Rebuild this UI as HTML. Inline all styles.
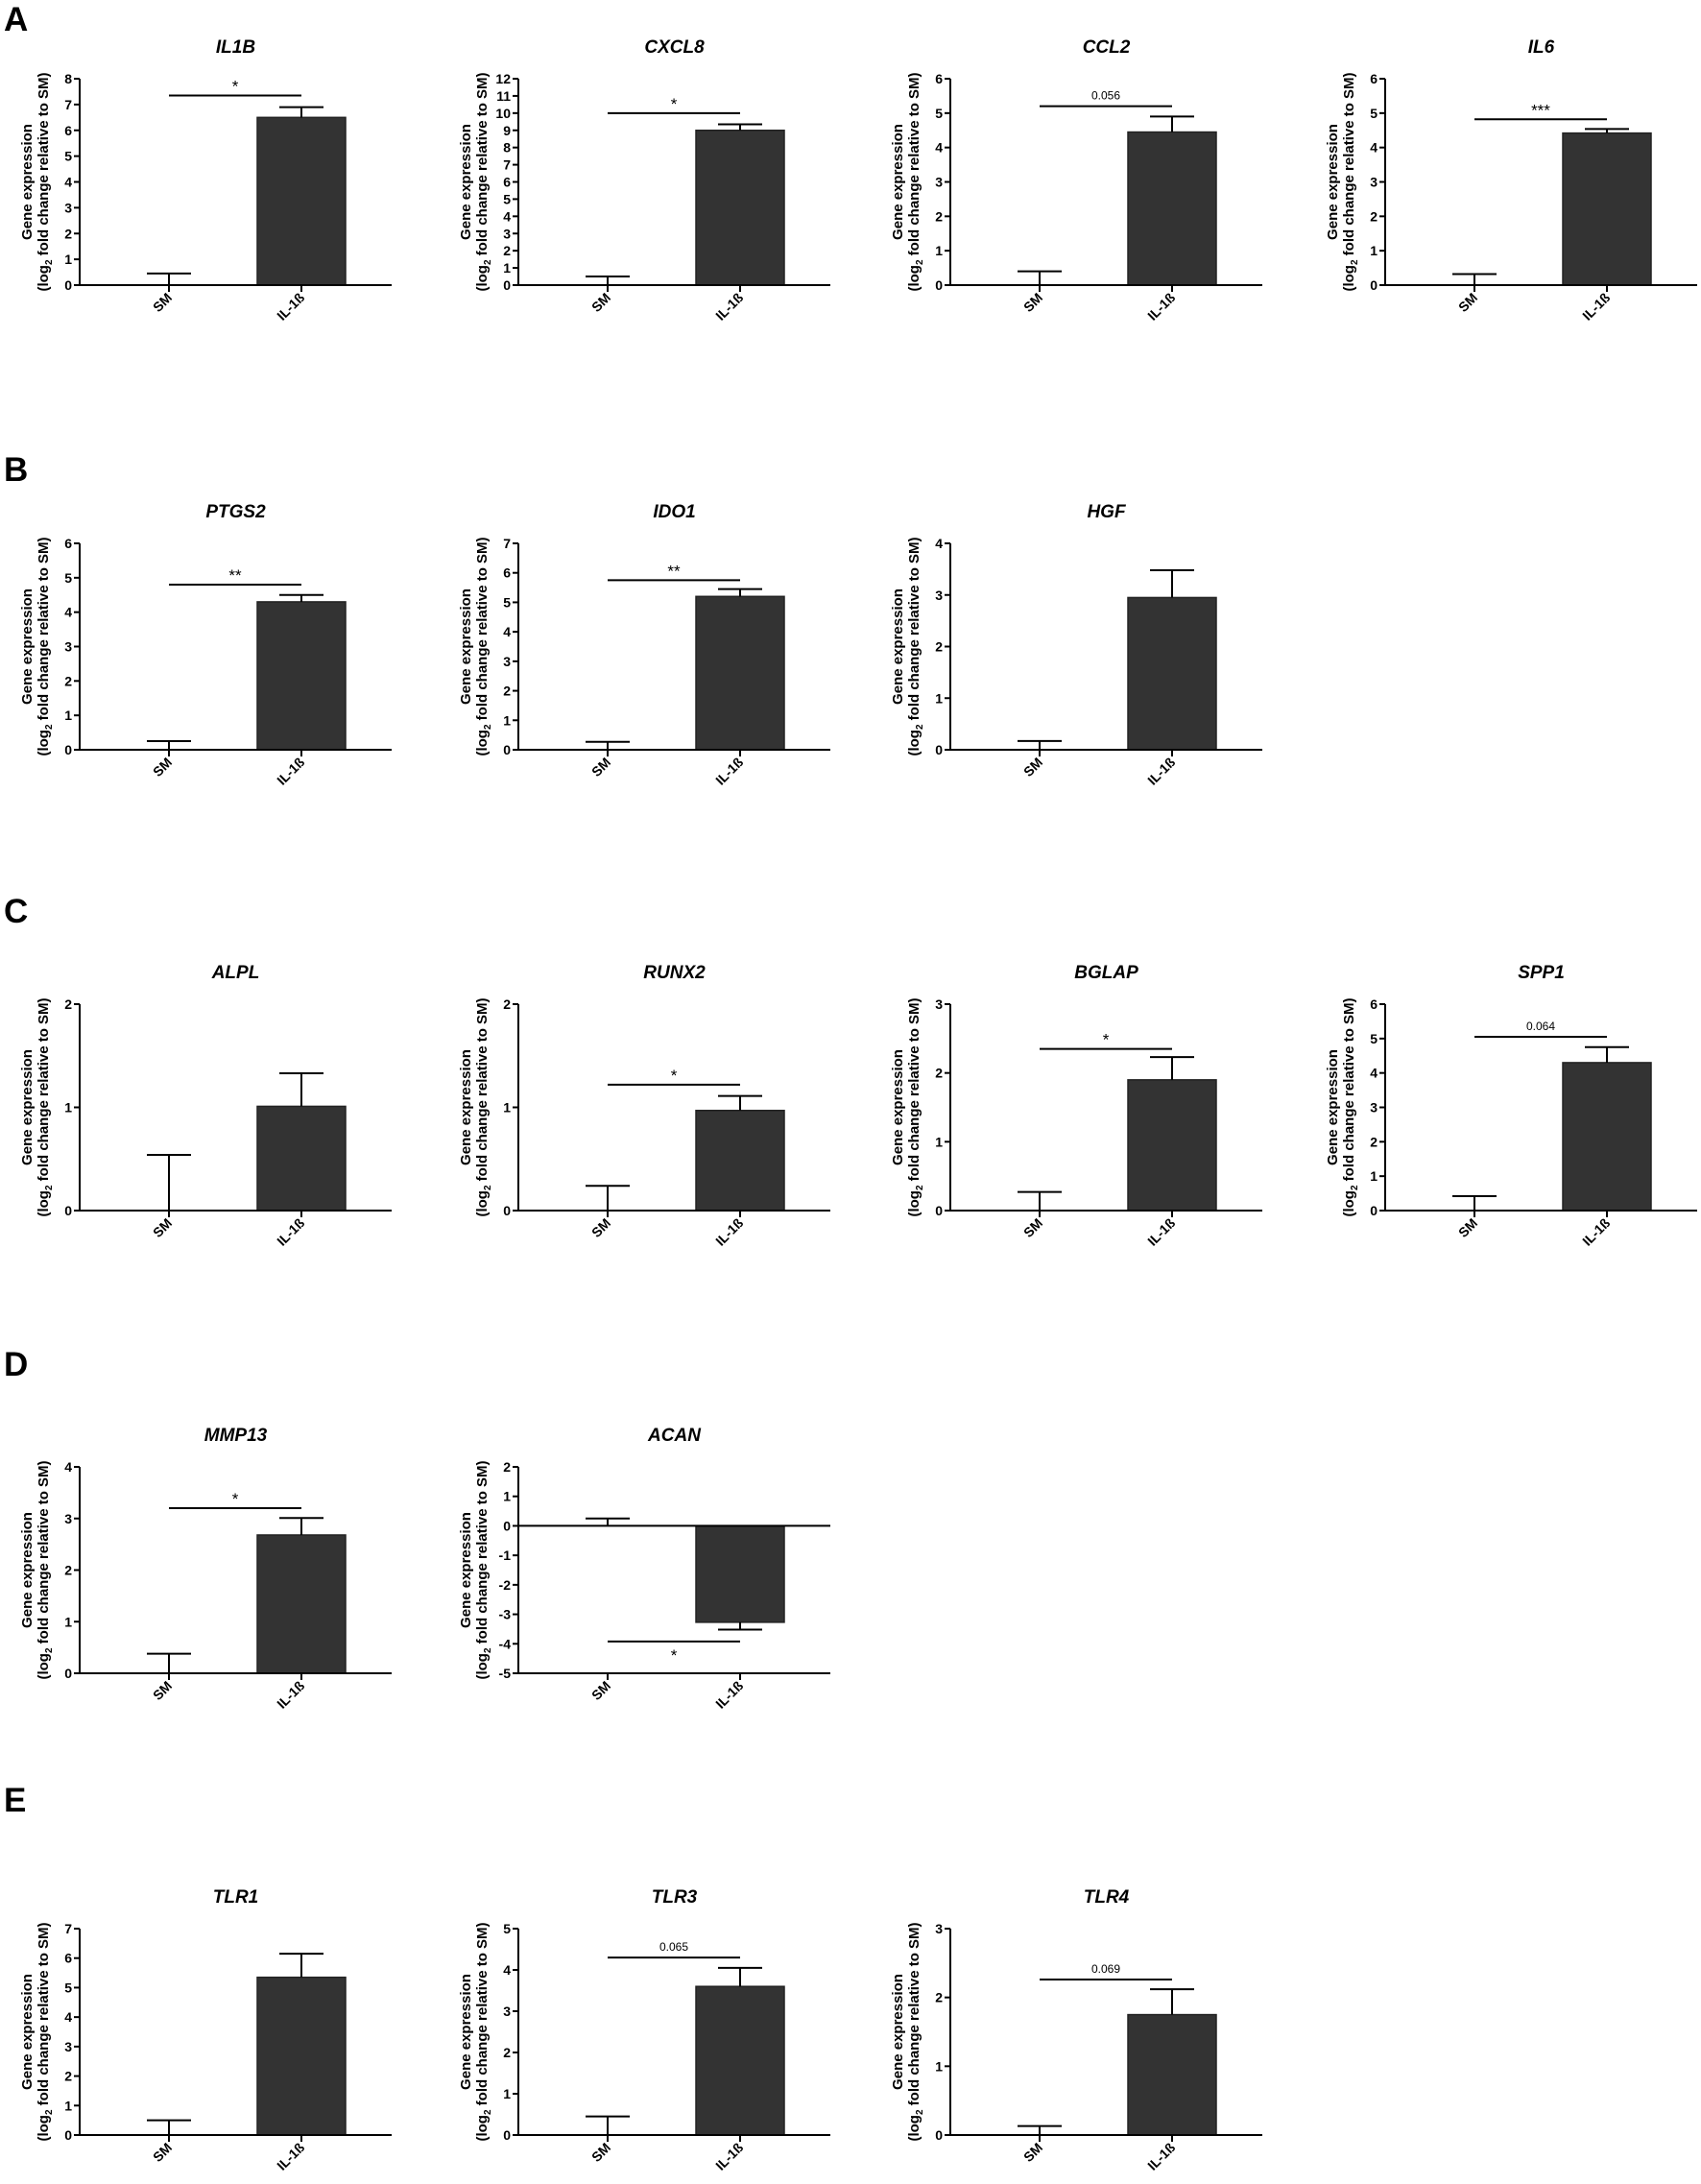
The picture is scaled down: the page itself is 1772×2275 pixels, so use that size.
<!DOCTYPE html>
<html><head><meta charset="utf-8">
<style>
html,body{margin:0;padding:0;background:#fff;}
svg{display:block;font-family:"Liberation Sans",Arial,sans-serif;}
</style></head>
<body>
<svg id="fig" width="1772" height="2275" viewBox="0 0 1772 2275" xmlns="http://www.w3.org/2000/svg"></svg>
<script>
const genes = ["IL1B","CXCL8","CCL2","IL6","PTGS2","IDO1","HGF","ALPL","RUNX2","BGLAP","SPP1","MMP13","ACAN","TLR1","TLR3","TLR4"];
const panelRow = [0,0,0,0,1,1,1,2,2,2,2,3,3,4,4,4];
const panelCol = [0,1,2,3,0,1,2,0,1,2,3,0,1,0,1,2];
const yMin = [0,0,0,0,0,0,0,0,0,0,0,0,-5,0,0,0];
const yMax = [8,12,6,6,6,7,4,2,2,3,6,4,2,7,5,3];
const smErr = [0.45,0.5,0.4,0.32,0.25,0.27,0.17,0.54,0.24,0.27,0.42,0.38,0.25,0.5,0.45,0.13];
const ilMean = [6.5,9.0,4.45,4.42,4.3,5.2,2.95,1.01,0.97,1.9,4.3,2.68,-3.27,5.35,3.6,1.75];
const ilErr = [0.4,0.35,0.45,0.12,0.2,0.25,0.53,0.32,0.14,0.33,0.45,0.33,0.25,0.8,0.45,0.37];
const sigY = [7.35,10,5.2,4.82,4.8,5.75,null,null,1.22,2.35,5.05,3.2,-3.92,null,4.3,2.26];
const sigLabel = ["*","*","0.056","***","**","**","","","*","*","0.064","*","*","","0.065","0.069"];
const sectionLetters = ["A","B","C","D","E"];
const categories = ["SM","IL-1\u00DF"];

const colX = [83,540,990,1443];
const rowZero = [297,781,1261,1743,2224];
const letterY = [32,501,961,1433,1887];
const PH = 215, PW = 325;
const NS = "http://www.w3.org/2000/svg";
const svg = document.getElementById('fig');

function mk(tag, attrs, parent, text){
  const e = document.createElementNS(NS, tag);
  for (const k in attrs) e.setAttribute(k, attrs[k]);
  if (text !== undefined) e.textContent = text;
  (parent||svg).appendChild(e);
  return e;
}

sectionLetters.forEach((L,i)=>{
  const t = mk('text',{x:4,y:letterY[i],'font-size':35,'font-weight':'bold',fill:'#000'},svg,L);
  
  
});

genes.forEach((g,i)=>{
  const ax = colX[panelCol[i]];
  const bottom = rowZero[panelRow[i]];
  const top = bottom - PH;
  const lo = yMin[i], hi = yMax[i];
  const y = v => bottom - (v - lo) / (hi - lo) * PH;
  const x = c => ax + (c === 0 ? 93 : 231);
  const grp = mk('g',{});
  
  

  const title = mk('text',{x:ax+PW/2,y:top-27,'text-anchor':'middle','font-size':19,'font-weight':'bold','font-style':'italic'},grp,g);
  
  

  const cy = (top+bottom)/2;
  const yl = mk('text',{transform:`translate(${ax-50},${cy}) rotate(-90)`,'text-anchor':'middle','font-size':15,'font-weight':'bold'},grp,'Gene expression');
  
  
  const yl2 = mk('text',{transform:`translate(${ax-33},${cy}) rotate(-90)`,'text-anchor':'middle','font-size':15,'font-weight':'bold'},grp);
  
  
  mk('tspan',{},yl2,'(log');
  mk('tspan',{'font-size':10,dy:4},yl2,'2');
  mk('tspan',{dy:-4},yl2,' fold change relative to SM)');

  const zero = y(0);
  const bx = x(1)-46;
  const bm = y(ilMean[i]);
  const bar = mk('rect',{x:bx,y:Math.min(bm,zero),width:92,height:Math.abs(zero-bm),fill:'#333',stroke:'#222','stroke-width':1.5},grp);
  
  
  const dir = ilMean[i] >= 0 ? 1 : -1;
  const e1 = y(ilMean[i] + dir*ilErr[i]);
  mk('line',{x1:x(1),x2:x(1),y1:bm,y2:e1,stroke:'#000','stroke-width':2},grp);
  mk('line',{x1:x(1)-23,x2:x(1)+23,y1:e1,y2:e1,stroke:'#000','stroke-width':2},grp);
  const e0 = y(smErr[i]);
  mk('line',{x1:x(0),x2:x(0),y1:zero,y2:e0,stroke:'#000','stroke-width':2},grp);
  mk('line',{x1:x(0)-23,x2:x(0)+23,y1:e0,y2:e0,stroke:'#000','stroke-width':2},grp);

  const ya = mk('line',{x1:ax,x2:ax,y1:top,y2:bottom,stroke:'#000','stroke-width':2},grp);
  
  
  const xa = mk('line',{x1:ax,x2:ax+PW,y1:zero,y2:zero,stroke:'#000','stroke-width':2},grp);
  
  
  if (lo < 0){
    const xb = mk('line',{x1:ax,x2:ax+PW,y1:bottom,y2:bottom,stroke:'#000','stroke-width':2},grp);
    
    
  }
  for (let v = lo; v <= hi; v++){
    mk('line',{x1:ax-6,x2:ax,y1:y(v),y2:y(v),stroke:'#000','stroke-width':2},grp);
    const tl = mk('text',{x:ax-8,y:y(v)+5,'text-anchor':'end','font-size':14,'font-weight':'bold'},grp,String(v));
    
    
  }
  categories.forEach((c,ci)=>{
    mk('line',{x1:x(ci),x2:x(ci),y1:bottom,y2:bottom+7,stroke:'#000','stroke-width':2},grp);
    const xl = mk('text',{transform:`translate(${x(ci)+4},${bottom+14}) rotate(-45)`,'text-anchor':'end','font-size':14,'font-weight':'bold'},grp,c);
    
    
  });

  if (sigY[i] !== null){
    const sy = y(sigY[i]);
    const sl = mk('line',{x1:x(0),x2:x(1),y1:sy,y2:sy,stroke:'#000','stroke-width':2},grp);
    
    
    const star = sigLabel[i].indexOf('*') >= 0;
    const below = sigY[i] < 0;
    const ty = below ? sy + (star ? 20 : 14) : sy - (star ? 4 : 7);
    const st = mk('text',{x:(x(0)+x(1))/2,y:ty,'text-anchor':'middle','font-size':star?17:12},grp,sigLabel[i]);
    
    
  }
});
</script>
</body></html>
